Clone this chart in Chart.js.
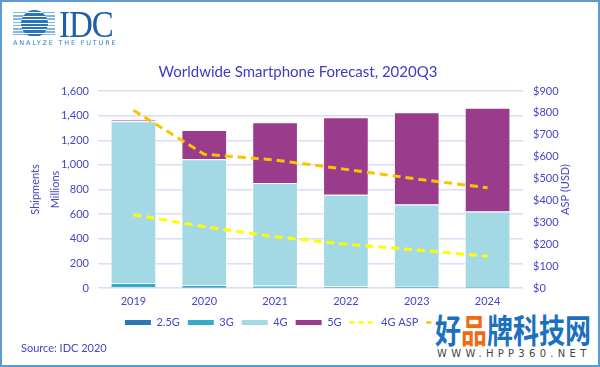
<!DOCTYPE html>
<html>
<head>
<meta charset="utf-8">
<script src="https://cdn.jsdelivr.net/npm/chart.js@4"></script>
<style>
  body { margin: 0; background: #fff; }
  #wrap { position: relative; width: 600px; height: 367px; overflow: hidden; font-family: Lato, sans-serif; }
  #chart { position: absolute; left: 0; top: 0; }
  #frame { position: absolute; left: 0; top: 0; width: 600px; height: 367px; box-sizing: border-box; border: 2px solid #5b9bd5; pointer-events: none; }
  .stripes { position: absolute; left: 13px; top: 12px; width: 42px; height: 23px;
    background: repeating-linear-gradient(to bottom, #7fb8e3 0 1.5px, transparent 1.5px 3.2px); }
  .globe { position: absolute; left: 21px; top: 10px; width: 27px; height: 27px; border-radius: 50%;
    background: repeating-linear-gradient(to bottom, #2a74bb 0 2.4px, #fff 2.4px 3.4px); }
  .idc { position: absolute; left: 59px; top: 5px; font-family: "Liberation Serif", serif; font-size: 33px; color: #1f5ea8; transform: scaleY(1.12); transform-origin: top left; letter-spacing: -1px; }
  .tag { position: absolute; left: 13px; top: 39px; font-family: "DejaVu Sans", sans-serif; font-size: 6.5px; letter-spacing: 1.8px; color: #2e7bc4; }
  #source { position: absolute; left: 21px; top: 341px; font-size: 11px; color: #4646c8; }
  #wm { position: absolute; left: 432px; top: 305px; width: 162px; height: 58px; background: #fff; }
  .cn { position: absolute; left: 3px; top: 0px; font-family: "Noto Sans CJK SC", sans-serif; font-weight: bold; font-size: 26px; color: #1c70c0; transform: scaleY(1.25); transform-origin: top left; white-space: nowrap; }
  .cn span { color: #f06a10; }
  .url { position: absolute; left: 5px; top: 43px; font-family: "DejaVu Sans", sans-serif; font-size: 10px; letter-spacing: 4.3px; color: #444; white-space: nowrap; }
</style>
</head>
<body>
<div id="wrap">
  <canvas id="chart" width="600" height="367"></canvas>
  <div class="stripes"></div>
  <div class="globe"></div>
  <div class="idc">IDC</div>
  <div class="tag">ANALYZE THE FUTURE</div>
  <div id="source">Source: IDC 2020</div>
  <div id="wm"><div class="cn">好<span>品</span>牌科技网</div><div class="url">WWW.HPP360.NET</div></div>
  <div id="frame"></div>
</div>
<script>
// data
const years = ["2019", "2020", "2021", "2022", "2023", "2024"]
const ship25G = [6, 3, 2, 2, 1, 1]
const ship3G = [35, 22, 18, 12, 9, 8]
const ship4G = [1313, 1020, 833, 744, 668, 612]
const ship5G = [14, 238, 493, 629, 750, 843]
const asp4G = [335, 280, 234, 200, 174, 145]
const asp5G = [812, 611, 585, 542, 498, 458]
const shipTicks = [0, 200, 400, 600, 800, 1000, 1200, 1400, 1600]
const aspTicks = [0, 100, 200, 300, 400, 500, 600, 700, 800, 900]

const textColor = "#4646c8"
const gridColor = "#dcdcf4"
const font = { family: "Lato, sans-serif", size: 11 }

function bar(label, data, color) {
  return {
    type: "bar", label, data, backgroundColor: color,
    borderColor: "rgba(255,255,255,0.6)", borderWidth: 1,
    stack: "s", yAxisID: "y", order: 1,
    barPercentage: 0.645, categoryPercentage: 1,
    legendWidth: 5,
  }
}
function asp(label, data, color) {
  return {
    type: "line", label, data, borderColor: color, backgroundColor: color,
    borderWidth: 3, borderDash: [8, 5], pointRadius: 0, tension: 0,
    yAxisID: "y1", order: 0, legendWidth: 2.5,
  }
}

// chart title and axis titles (axis titles read bottom-to-top like the reference)
const titles = {
  id: "titles",
  afterDraw(chart) {
    const { ctx, chartArea } = chart
    const midY = (chartArea.top + chartArea.bottom) / 2
    ctx.save()
    ctx.font = "15px Lato, sans-serif"
    ctx.fillStyle = "#3c3cc4"
    ctx.textAlign = "center"
    ctx.textBaseline = "middle"
    ctx.fillText("Worldwide Smartphone Forecast, 2020Q3", 298, 72)
    ctx.restore()
    const put = (text, x) => {
      ctx.save()
      ctx.translate(x, midY)
      ctx.rotate(-Math.PI / 2)
      ctx.font = "11px Lato, sans-serif"
      ctx.fillStyle = textColor
      ctx.textAlign = "center"
      ctx.textBaseline = "middle"
      ctx.fillText(text, 0, 0)
      ctx.restore()
    }
    put("Shipments", 35)
    put("Millions", 55)
    put("ASP (USD)", 565)
  },
}

new Chart(document.getElementById("chart"), {
  data: {
    labels: years,
    datasets: [
      bar("2.5G", ship25G, "#2e75b6"),
      bar("3G", ship3G, "#35abc8"),
      bar("4G", ship4G, "#a2d9e5"),
      bar("5G", ship5G, "#9b3b8b"),
      asp("4G ASP", asp4G, "#ffff00"),
      asp("5G ASP", asp5G, "#ffc000"),
    ],
  },
  plugins: [titles],
  options: {
    responsive: false,
    animation: false,
    layout: { padding: { top: 91, left: 20, right: 0, bottom: 29 } },
    plugins: {
      title: { display: false },
      legend: {
        position: "bottom",
        labels: {
          color: textColor,
          font,
          usePointStyle: true,
          pointStyleWidth: 26,
          padding: 8,
          generateLabels: (chart) =>
            chart.data.datasets.map((ds, i) => ({
              text: ds.label,
              fillStyle: ds.borderColor,
              strokeStyle: ds.type === "bar" ? ds.backgroundColor : ds.borderColor,
              lineWidth: ds.legendWidth,
              lineDash: ds.type === "line" ? [5, 4] : [],
              pointStyle: "line",
              fontColor: textColor,
              datasetIndex: i,
              hidden: false,
            })),
        },
      },
      tooltip: { enabled: false },
    },
    scales: {
      x: {
        stacked: true,
        grid: { display: false, drawTicks: false },
        border: { display: false },
        ticks: { color: textColor, font, padding: 7 },
        afterFit: (s) => { s.height = 21 },
      },
      y: {
        stacked: true,
        position: "left",
        min: 0, max: 1600,
        afterBuildTicks: (s) => { s.ticks = shipTicks.map((v) => ({ value: v })) },
        grid: { color: gridColor, lineWidth: 1.5, drawTicks: false },
        border: { display: false },
        ticks: { color: textColor, font, padding: 9, callback: (v) => v.toLocaleString("en-US") },
        afterFit: (s) => { s.width = 78 },
      },
      y1: {
        position: "right",
        min: 0, max: 900,
        afterBuildTicks: (s) => { s.ticks = aspTicks.map((v) => ({ value: v })) },
        grid: { display: false, drawTicks: false },
        border: { display: false },
        ticks: { color: textColor, font, padding: 10, callback: (v) => "$" + v },
        afterFit: (s) => { s.width = 77 },
      },
    },
  },
})
</script>
</body>
</html>
